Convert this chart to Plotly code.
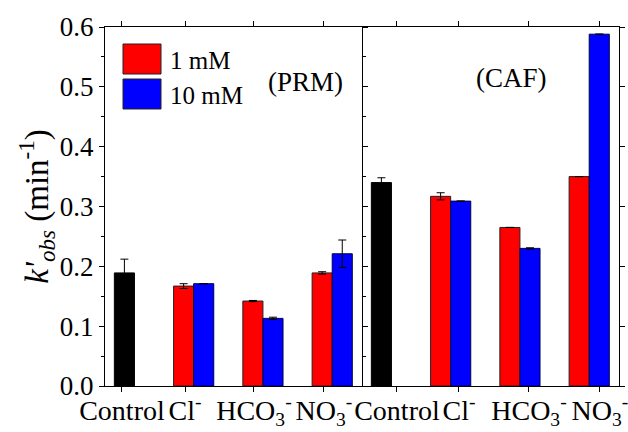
import plotly.graph_objects as go

# ---------------- data ----------------
categories = ["Control", "Cl<sup>-</sup>", "HCO<sub>3</sub><sup>-</sup>", "NO<sub>3</sub><sup>-</sup>"]
cat_pos = list(range(len(categories)))          # category index positions
anion_pos = cat_pos[1:]

# label positions (in category units) as placed in the original figure
prm_label_pos = [-0.035, 0.875, 1.87, 2.88]
caf_label_pos = [0.225, 1.12, 2.13, 3.155]

# PRM panel
prm_control = [0.189]
prm_control_err = [0.023]
prm_1mM = [0.167, 0.142, 0.189]
prm_1mM_err = [0.004, 0.001, 0.002]
prm_10mM = [0.171, 0.113, 0.221]
prm_10mM_err = [None, 0.002, 0.023]

# CAF panel
caf_control = [0.340]
caf_control_err = [0.008]
caf_1mM = [0.317, 0.265, 0.350]
caf_1mM_err = [0.006, None, None]
caf_10mM = [0.309, 0.230, 0.588]
caf_10mM_err = [None, 0.001, None]

series_names = ["1 mM", "10 mM"]
panel_labels = ["(PRM)", "(CAF)"]
y_ticks = [0.0, 0.1, 0.2, 0.3, 0.4, 0.5, 0.6]

# ---------------- style ----------------
FONT = "Liberation Serif"
BW = 0.29
RED = "#ff0000"
BLUE = "#0000ff"

W, H = 628, 432
ML, MR, MT, MB = 105, 9, 27, 46
PW, PH = W - ML - MR, H - MT - MB


def px_x(p):
    return (p - ML) / PW


def px_y(p):
    return (H - MB - p) / PH


fig = go.Figure()


def err(vals):
    return dict(type="data", array=vals, visible=True, color="black",
                thickness=1, width=4)


panels = [
    ("x", "y", prm_control, prm_control_err, prm_1mM, prm_1mM_err, prm_10mM, prm_10mM_err),
    ("x2", "y2", caf_control, caf_control_err, caf_1mM, caf_1mM_err, caf_10mM, caf_10mM_err),
]

for xa, ya, c, ce, r, re, b, be in panels:
    fig.add_trace(go.Bar(x=cat_pos[:1], y=c, error_y=err(ce), width=BW, offset=-BW / 2,
                         marker=dict(color="black", line=dict(color="black", width=1)),
                         xaxis=xa, yaxis=ya, showlegend=False, name="Control"))
    fig.add_trace(go.Bar(x=anion_pos, y=r, error_y=err(re), width=BW, offset=-BW,
                         marker=dict(color=RED, line=dict(color="#222222", width=1)),
                         xaxis=xa, yaxis=ya, showlegend=False, name=series_names[0]))
    fig.add_trace(go.Bar(x=anion_pos, y=b, error_y=err(be), width=BW, offset=0,
                         marker=dict(color=BLUE, line=dict(color="#000044", width=1)),
                         xaxis=xa, yaxis=ya, showlegend=False, name=series_names[1]))

xcommon = dict(type="linear", range=[-0.28, 3.43], showline=True, linecolor="black",
               linewidth=1.3, ticks="outside", ticklen=5, tickcolor="black", mirror="ticks",
               tickfont=dict(family=FONT, size=28, color="black"), showgrid=False,
               zeroline=False, fixedrange=True, automargin=False, tickmode="array",
               ticktext=categories, ticklabeloverflow="allow", ticklabelstandoff=-6)

fig.update_layout(
    width=W, height=H,
    margin=dict(l=ML, r=MR, t=MT, b=MB),
    paper_bgcolor="white", plot_bgcolor="white",
    barmode="overlay",
    showlegend=False,
    font=dict(family=FONT, size=26, color="black"),
    xaxis=dict(domain=[0, 0.5], anchor="y", tickvals=prm_label_pos, **xcommon),
    xaxis2=dict(domain=[0.5, 1], anchor="y2", tickvals=caf_label_pos, **xcommon),
    yaxis=dict(range=[0, 0.6], tickvals=y_ticks, ticktext=[f"{v:.1f}" for v in y_ticks],
               showline=True, linecolor="black", linewidth=1.3, ticks="outside", ticklen=5,
               tickcolor="black", mirror="ticks", showgrid=False, zeroline=False,
               minor=dict(dtick=0.05, ticks="outside", ticklen=3, tickcolor="black"),
               tickfont=dict(family=FONT, size=27, color="black"), automargin=False,
               title=dict(text="<i>k'</i><sub><i>obs</i></sub> (min<sup>-1</sup>)",
                          font=dict(family=FONT, size=33, color="black"), standoff=0),
               anchor="x"),
    yaxis2=dict(range=[0, 0.6], matches="y", anchor="x2", side="right",
                tickvals=y_ticks, showticklabels=False, automargin=False,
                showline=True, linecolor="black", linewidth=1.3, ticks="outside", ticklen=5,
                tickcolor="black", showgrid=False, zeroline=False),
)

# panel labels
fig.add_annotation(x=px_x(305), y=px_y(82), xref="paper", yref="paper", text=panel_labels[0],
                   xanchor="center", yanchor="middle",
                   showarrow=False, font=dict(family=FONT, size=27, color="black"))
fig.add_annotation(x=px_x(511), y=px_y(78), xref="paper", yref="paper", text=panel_labels[1],
                   xanchor="center", yanchor="middle",
                   showarrow=False, font=dict(family=FONT, size=27, color="black"))

# legend drawn manually (large swatches)
for (top, bot), col, name, ty in [((44, 74), RED, series_names[0], 60),
                                   ((79, 109), BLUE, series_names[1], 95)]:
    fig.add_shape(type="rect", xref="paper", yref="paper",
                  x0=px_x(123), x1=px_x(161), y0=px_y(bot), y1=px_y(top),
                  fillcolor=col, line=dict(color="#222222", width=1))
    fig.add_annotation(x=px_x(168), y=px_y(ty), xref="paper", yref="paper", text=name,
                       xanchor="left", yanchor="middle", showarrow=False,
                       font=dict(family=FONT, size=25, color="black"))

fig.write_html("out.html")
